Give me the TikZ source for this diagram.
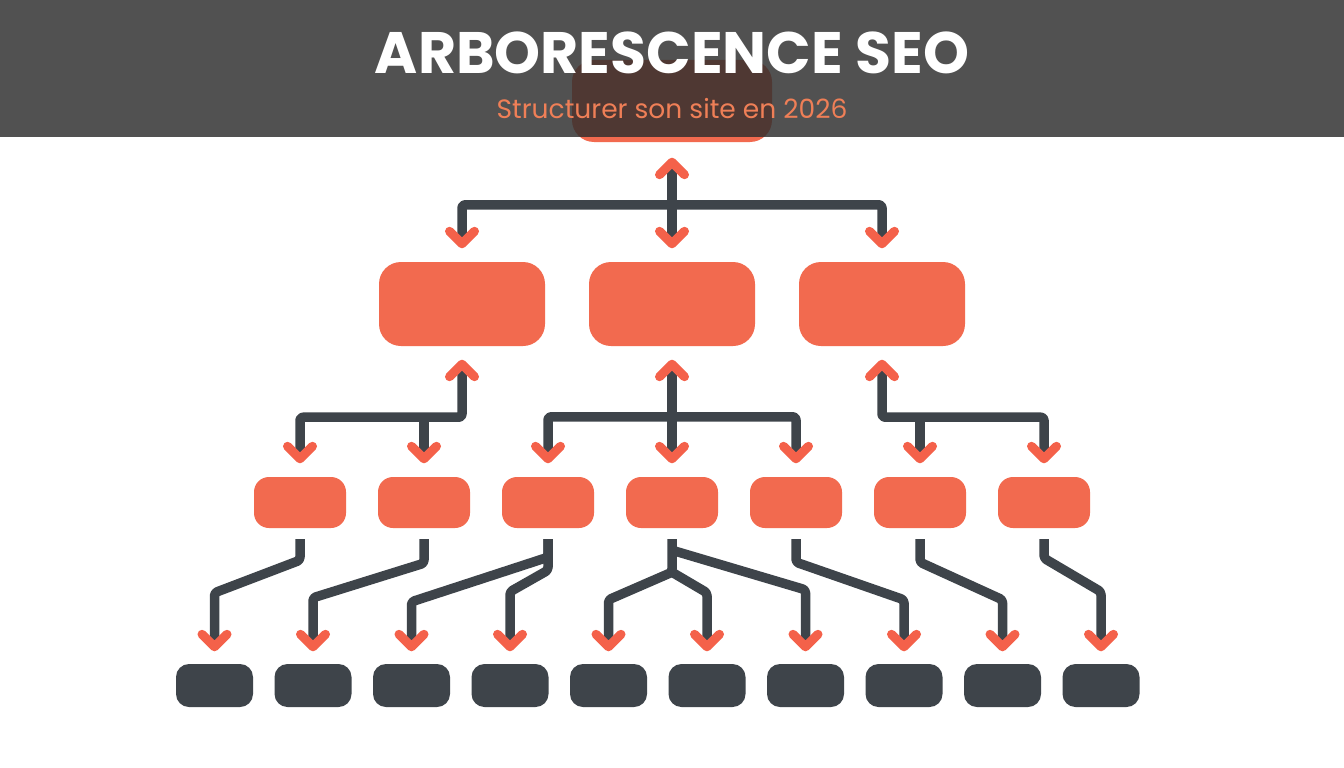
\documentclass[tikz,border=0pt]{standalone}
\usepackage{fontspec}
\setmainfont{Poppins}
\usepackage{tikz}
\usepackage{xcolor}
\definecolor{seoorange}{HTML}{F26A4F}
\definecolor{chevorange}{HTML}{F4614A}
\definecolor{slate}{HTML}{3E444A}
\definecolor{bannergray}{HTML}{2E2E2E}
\definecolor{subtext}{HTML}{EF7F57}

\begin{document}
\begin{tikzpicture}[x=1pt, y=-1pt, every node/.style={inner sep=0pt},
  rootbox/.style={rectangle, fill=seoorange, rounded corners=22pt, minimum width=200pt, minimum height=82pt},
  hubbox/.style={rectangle, fill=seoorange, rounded corners=22pt, minimum width=166pt, minimum height=84pt},
  subbox/.style={rectangle, fill=seoorange, rounded corners=15pt, minimum width=92pt, minimum height=51pt},
  leafbox/.style={rectangle, fill=slate, rounded corners=13pt, minimum width=77pt, minimum height=43pt},
  link/.style={draw=slate, line width=9.5pt, line join=round, rounded corners=3pt},
  chevron/.style={draw=chevorange, line width=9pt, line cap=round, line join=round},
  chevdn/.pic={\draw[chevron] (-12.5,-12.5) -- (0,0) -- (12.5,-12.5);},
  chevup/.pic={\draw[chevron] (-12.5,12.5) -- (0,0) -- (12.5,12.5);}]
  \useasboundingbox (0,0) rectangle (1344,768);
  \fill[white] (0,0) rectangle (1344,768);

  % boxes
  \node[rootbox] (r) at (672,101) {};
  \foreach \i in {1,2,3}
    \node[hubbox] (a\i) at ({462+210*(\i-1)},304) {};
  \foreach \i in {1,...,7}
    \node[subbox] (b\i) at ({300+124*(\i-1)},502.5) {};
  \foreach \i in {1,...,10}
    \node[leafbox] (c\i) at ({214.5+98.5*(\i-1)},685.5) {};

  % link ends
  \coordinate (r-out) at ([yshift=-20pt]r.south);
  \foreach \i in {1,2,3} {
    \coordinate (a\i-in) at ([yshift=18pt]a\i.north);
    \coordinate (a\i-out) at ([yshift=-18pt]a\i.south);
  }
  \foreach \i in {1,...,7} {
    \coordinate (b\i-in) at ([yshift=18pt]b\i.north);
    \coordinate (b\i-out) at ([yshift=-11pt]b\i.south);
  }
  \foreach \i in {1,...,10}
    \coordinate (c\i-in) at ([yshift=17pt]c\i.north);

  % level 0 -> 1
  \draw[link] (r-out) -- (a2-in);
  \draw[link] (a1-in) -- ++(0,-39) -| (a3-in);

  % level 1 -> 2
  \draw[link] (a1-out) -- ++(0,53) -| (b1-in);
  \draw[link] (b2-in) -- ++(0,-42);
  \draw[link] (b3-in) -- ++(0,-42) -| (b5-in);
  \draw[link] (a2-out) -- (b4-in);
  \draw[link] (a3-out) -- ++(0,53) -| (b7-in);
  \draw[link] (b6-in) -- ++(0,-42);

  % level 2 -> 3
  \foreach \src/\dst/\drop/\rise in {b1/c1/21/54, b2/c2/24/49, b3/c4/31/55, b5/c8/23/47, b6/c9/23/47, b7/c10/19/55}
    \draw[link] (\src-out) -- ++(0,\drop) -- ([yshift=\rise pt]\dst-in) -- (\dst-in);
  \draw[link] (b3-out) -- ++(0,18) -- ([yshift=45pt]c3-in) -- (c3-in);
  \draw[link] (b4-out) -- ++(0,33) -- ([yshift=47pt]c5-in) -- (c5-in);
  \draw[link] (b4-out) ++(0,33) -- ([yshift=54pt]c6-in) -- (c6-in);
  \draw[link] (b4-out) ++(0,11) -- ([yshift=57pt]c7-in) -- (c7-in);

  % arrow heads
  \pic at (r-out) {chevup};
  \foreach \i in {1,2,3} {
    \pic at (a\i-in) {chevdn};
    \pic at (a\i-out) {chevup};
  }
  \foreach \i in {1,...,7}
    \pic at (b\i-in) {chevdn};
  \foreach \i in {1,...,10}
    \pic at (c\i-in) {chevdn};

  % banner
  \fill[bannergray, opacity=.83] (0,0) rectangle (1344,137);
  \node[font=\bfseries\fontsize{58.5}{62}\selectfont, text=white, anchor=base] (title) at (672,74) {ARBORESCENCE SEO};
  \node[font=\fontsize{26.5}{30}\selectfont, text=subtext, anchor=base] (subtitle) at (672,118) {Structurer son site en 2026};
\end{tikzpicture}
\end{document}
